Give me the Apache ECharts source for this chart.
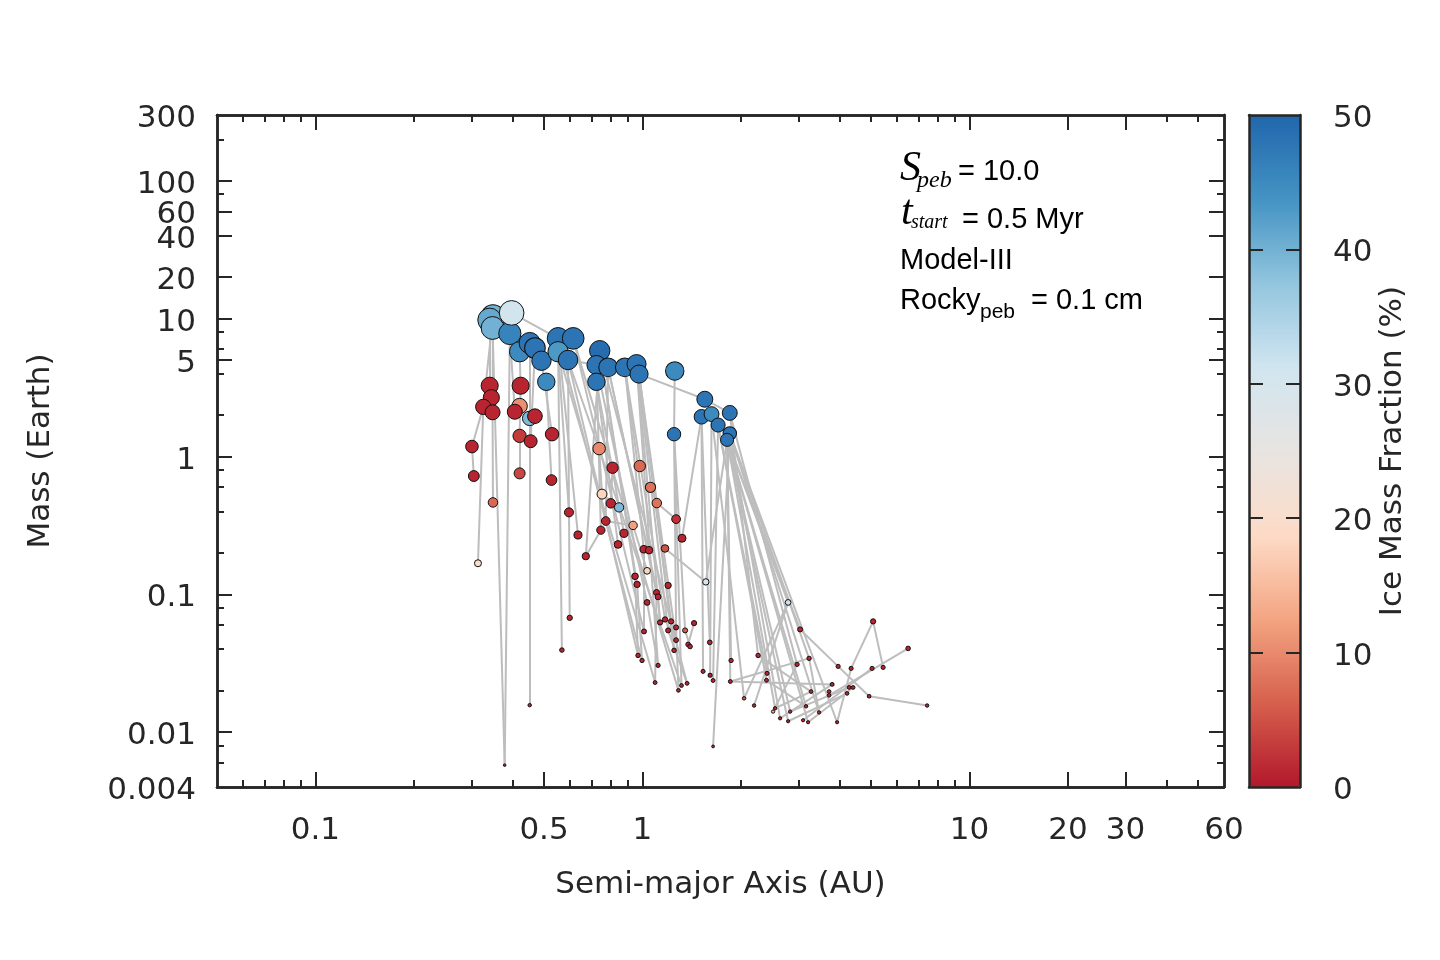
<!DOCTYPE html>
<html>
<head>
<meta charset="utf-8">
<script src="https://cdn.jsdelivr.net/npm/echarts@6/dist/echarts.min.js"></script>
<style>
  html, body { margin: 0; padding: 0; background: #fff; }
  #chart { width: 1440px; height: 960px; }
</style>
</head>
<body>
<div id="chart"></div>
<script>
// semi-major axis (AU), mass (Earth masses), ice mass fraction (%) per body
const semiMajor = [
  0.349, 0.341, 0.348, 0.393, 0.398, 0.421, 0.452, 0.469, 0.491, 0.552,
  0.614, 0.552, 0.592, 0.740, 0.723, 0.785, 0.883, 0.959, 0.976, 0.723,
  1.255, 1.551, 1.515, 1.626, 1.849, 1.703, 1.849, 1.814, 1.249, 0.508,
  0.452,
  0.341, 0.345, 0.326, 0.348, 0.424, 0.421, 0.407, 0.469, 0.421, 0.455,
  0.529, 0.301, 0.305, 0.421, 0.527, 0.737, 0.810, 0.981, 1.058, 0.349,
  0.314, 0.596, 0.635, 0.671, 0.752, 0.800, 0.848, 0.772, 0.746, 0.936,
  0.878, 0.842, 1.106, 1.267, 1.321, 1.009, 1.047, 1.172, 1.033, 1.562,
  0.949, 0.963, 1.198, 1.104, 1.116, 1.033, 0.599, 1.132, 1.172, 1.223,
  1.267, 1.350, 1.438, 1.011, 1.198, 1.267, 1.249, 1.379, 1.398, 1.606,
  0.969, 0.997, 1.116, 1.093, 1.288, 1.316, 1.369, 1.532, 1.610, 1.644,
  1.644, 1.866, 1.856, 2.257, 2.045, 2.194, 2.404, 2.394, 2.544, 2.508,
  2.635, 2.788, 2.828, 2.970, 3.034, 2.788, 5.072, 6.49, 3.232, 3.965,
  4.345, 5.036, 5.443, 3.801, 4.284, 4.406, 3.278, 3.721, 3.721, 4.224,
  4.932, 7.42, 3.164, 3.467, 3.098, 3.209, 3.936, 0.452, 0.567, 0.379
];
const mass = [
  10.3, 9.77, 8.55, 7.8, 11.0, 5.75, 6.65, 6.12, 4.95, 7.19,
  7.19, 5.75, 5.01, 5.85, 4.61, 4.43, 4.43, 4.68, 3.96, 3.48,
  4.17, 2.60, 1.94, 2.03, 2.07, 1.69, 1.47, 1.32, 1.45, 3.48,
  1.89,
  3.26, 2.67, 2.29, 2.09, 3.26, 2.32, 2.11, 1.96, 1.41, 1.29,
  1.45, 1.18, 0.721, 0.754, 0.674, 1.14, 0.828, 0.852, 0.597, 0.464,
  0.168, 0.393, 0.269, 0.189, 0.533, 0.457, 0.427, 0.340, 0.292, 0.316,
  0.277, 0.230, 0.459, 0.351, 0.255, 0.212, 0.209, 0.215, 0.148, 0.123,
  0.135, 0.118, 0.116, 0.103, 0.0959, 0.0873, 0.0675, 0.0625, 0.0657, 0.0636,
  0.0575, 0.0547, 0.0618, 0.0538, 0.0547, 0.0465, 0.0392, 0.0433, 0.0418, 0.0448,
  0.036, 0.0331, 0.0305, 0.0229, 0.0201, 0.0218, 0.0226, 0.0276, 0.0259, 0.0237,
  0.00788, 0.0331, 0.0233, 0.036, 0.0176, 0.0156, 0.0267, 0.0238, 0.0149, 0.0141,
  0.0126, 0.0120, 0.0141, 0.031, 0.0556, 0.0873, 0.0636, 0.0405, 0.0343, 0.030,
  0.029, 0.029, 0.0295, 0.0222, 0.0211, 0.0211, 0.0197, 0.0197, 0.0185, 0.0191,
  0.0182, 0.0156, 0.0154, 0.0139, 0.0122, 0.0118, 0.0118, 0.0157, 0.0394, 0.00576
];
const iceFraction = [
  40, 41, 40, 46, 31, 45, 48, 48, 48, 48,
  48, 43, 48, 49, 48, 48, 48, 48, 48, 48,
  45, 48, 48, 45, 48, 48, 48, 48, 48, 45,
  39,
  1, 1, 1, 1, 1, 10.5, 1, 1, 3, 1,
  1, 1, 1, 4, 1, 10, 1, 7, 8, 7,
  19.5, 1, 1, 1, 18, 1, 39, 1, 1, 12,
  1, 1, 8, 2, 1, 1, 1, 5, 18, 29,
  1, 1, 1, 1, 1, 1, 1, 1, 1, 1,
  1, 6, 1, 1, 1, 1, 1, 1, 1, 1,
  1, 1, 1, 1, 1, 1, 1, 1, 1, 1,
  1, 1, 1, 1, 5, 1, 1, 1, 1, 13,
  1, 1, 1, 1, 1, 32, 1, 1, 1, 1,
  1, 1, 1, 1, 1, 1, 1, 1, 1, 1,
  1, 1, 1, 1, 1, 1, 1, 1, 1, 1
];
// grey tracks: pairs of body indices
const tracks = [
  [4, 9], [9, 10], [12, 14], [14, 16], [16, 17], [18, 21], [21, 24], [20, 28],
  [1, 31], [31, 32], [32, 34], [33, 42], [42, 43], [33, 51], [34, 50], [0, 33], [2, 140], [3, 140], [0, 34],
  [5, 35], [35, 39], [39, 44], [6, 30], [30, 138], [3, 37], [37, 36], [7, 40], [8, 41], [29, 45],
  [11, 139], [12, 77], [11, 52], [9, 53], [13, 54], [54, 59],
  [12, 91], [9, 92], [10, 84], [11, 94], [13, 71], [13, 72], [14, 76], [15, 74], [15, 75], [16, 66], [16, 67],
  [17, 78], [17, 85], [18, 87], [18, 86], [19, 62], [19, 61], [14, 59], [15, 58], [10, 95], [12, 96], [13, 97],
  [17, 93], [16, 79], [18, 80], [28, 96], [28, 81], [28, 82],
  [46, 55], [55, 56], [58, 60], [47, 56], [49, 63], [63, 64], [65, 22], [68, 70], [66, 84], [57, 55], [60, 69],
  [27, 116], [27, 115], [26, 119], [27, 133], [27, 136], [26, 137], [26, 134], [27, 113], [27, 112], [27, 109],
  [25, 107], [24, 104], [27, 102], [27, 103], [26, 101], [22, 98], [23, 99], [25, 100], [27, 70], [26, 111],
  [24, 114], [25, 108], [22, 90], [23, 105],
  [117, 121], [117, 123], [115, 120], [120, 131], [131, 132], [118, 129], [116, 105], [116, 106], [119, 103],
  [114, 110], [121, 137], [124, 111], [125, 113], [126, 136], [127, 109], [130, 112], [134, 119], [108, 133],
  [103, 124], [104, 127], [122, 135],
  [71, 91], [72, 92], [76, 93], [74, 94], [75, 78], [79, 86], [80, 87], [81, 95], [83, 88], [85, 97], [82, 89]
];

const xLabels = [0.1, 0.5, 1, 10, 20, 30, 60];
const xMajorTicks = [0.1, 0.5, 1, 10, 20, 30];
const xMinorTicks = [0.06, 0.07, 0.08, 0.09, 0.2, 0.3, 0.4, 0.6, 0.7, 0.8, 0.9, 2, 3, 4, 5, 6, 7, 8, 9, 40, 50];
const yLabels = [300, 100, 60, 40, 20, 10, 5, 1, 0.1, 0.01, 0.004];
const yMajorTicks = [100, 60, 40, 20, 10, 5, 1, 0.1, 0.01];
const yMinorTicks = [200, 80, 8, 6, 4, 2, 0.8, 0.6, 0.4, 0.2, 0.08, 0.06, 0.04, 0.02, 0.008, 0.006];
const barTicks = [10, 20, 30, 40];

const ink = '#262626';
const axisFont = 'DejaVu Sans';
const fs = 31;
const barColors = ['#b2182b', '#d6604d', '#f4a582', '#fddbc7', '#e8e4e1', '#d1e5f0', '#92c5de', '#4393c3', '#2166ac'];

const bodies = semiMajor.map((a, i) => [a, mass[i], iceFraction[i]]);
const trackData = tracks.map(([i, j]) => ({
  coords: [[semiMajor[i], mass[i]], [semiMajor[j], mass[j]]]
}));

function logAxis(pos, lo, hi, ticks, len, extra) {
  const ax = {
    type: 'log', logBase: 10, min: lo, max: hi, position: pos, gridIndex: 0,
    axisLine: { show: true, onZero: false, lineStyle: { color: ink, width: 2.5 } },
    axisTick: { show: true, inside: true, length: len, customValues: ticks, lineStyle: { color: ink, width: 2 } },
    axisLabel: { show: false },
    splitLine: { show: false },
    minorTick: { show: false },
    axisPointer: { show: false }
  };
  return Object.assign(ax, extra || {});
}

function barAxis(dim, pos, extra) {
  const ax = {
    type: 'value', gridIndex: 1, position: pos, z: 10,
    min: 0, max: dim === 'y' ? 50 : 1,
    axisLine: { show: true, onZero: false, lineStyle: { color: ink, width: 2.5 } },
    axisTick: { show: false },
    axisLabel: { show: false },
    splitLine: { show: false }
  };
  return Object.assign(ax, extra || {});
}

const titleStyle = { color: ink, fontFamily: axisFont, fontSize: fs };

const chart = echarts.init(document.getElementById('chart'));
chart.setOption({
  backgroundColor: '#fff',
  animation: false,
  grid: [
    { left: 217, top: 115, width: 1007, height: 672, outerBoundsMode: 'none' },
    { left: 1249, top: 115, width: 51, height: 672, outerBoundsMode: 'none' }
  ],
  xAxis: [
    logAxis('bottom', 0.05, 60, xMajorTicks, 15, {
      name: 'Semi-major Axis (AU)', nameLocation: 'middle', nameGap: 82,
      nameTextStyle: titleStyle,
      axisLabel: { show: true, customValues: xLabels, formatter: v => String(v), margin: 28,
        color: ink, fontFamily: axisFont, fontSize: fs }
    }),
    logAxis('bottom', 0.05, 60, xMinorTicks, 7),
    logAxis('top', 0.05, 60, xMajorTicks, 15),
    logAxis('top', 0.05, 60, xMinorTicks, 7),
    barAxis('x', 'bottom'),
    barAxis('x', 'top')
  ],
  yAxis: [
    logAxis('left', 0.004, 300, yMajorTicks, 15, {
      name: 'Mass (Earth)', nameLocation: 'middle', nameGap: 161, nameRotate: 90,
      nameTextStyle: titleStyle,
      axisLabel: { show: true, customValues: yLabels, formatter: v => String(v), margin: 21,
        verticalAlign: 'top', lineHeight: 8, color: ink, fontFamily: axisFont, fontSize: fs }
    }),
    logAxis('left', 0.004, 300, yMinorTicks, 7),
    logAxis('right', 0.004, 300, yMajorTicks, 15),
    logAxis('right', 0.004, 300, yMinorTicks, 7),
    barAxis('y', 'right', {
      interval: 10,
      axisTick: { show: true, inside: true, length: 14, customValues: barTicks, lineStyle: { color: ink, width: 2 } },
      axisLabel: { show: true, margin: 33, verticalAlign: 'top', lineHeight: 8,
        color: ink, fontFamily: axisFont, fontSize: fs },
      name: 'Ice Mass Fraction (%)', nameLocation: 'middle', nameGap: 77, nameRotate: 90,
      nameTextStyle: titleStyle
    }),
    barAxis('y', 'left', {
      axisTick: { show: true, inside: true, length: 14, customValues: barTicks, lineStyle: { color: ink, width: 2 } }
    })
  ],
  visualMap: {
    type: 'continuous', min: 0, max: 50, dimension: 2, seriesIndex: 1,
    inRange: { color: barColors },
    calculable: false, hoverLink: false, realtime: false,
    orient: 'vertical', left: 1249, top: 115, itemWidth: 51, itemHeight: 672,
    padding: 0, text: null, z: 4
  },
  graphic: [
    { type: 'text', x: 900, y: 169, style: { text: 'S', font: 'italic 42px "Liberation Serif"', fill: '#000', verticalAlign: 'middle' } },
    { type: 'text', x: 917, y: 181, style: { text: 'peb', font: 'italic 24px "Liberation Serif"', fill: '#000', verticalAlign: 'middle' } },
    { type: 'text', x: 958, y: 172, style: { text: '= 10.0', font: '29px "Liberation Sans"', fill: '#000', verticalAlign: 'middle' } },
    { type: 'text', x: 901, y: 213, style: { text: 't', font: 'italic 42px "Liberation Serif"', fill: '#000', verticalAlign: 'middle' } },
    { type: 'text', x: 911, y: 223, style: { text: 'start', font: 'italic 20px "Liberation Serif"', fill: '#000', verticalAlign: 'middle' } },
    { type: 'text', x: 962, y: 220, style: { text: '= 0.5 Myr', font: '29px "Liberation Sans"', fill: '#000', verticalAlign: 'middle' } },
    { type: 'text', x: 900, y: 261, style: { text: 'Model-III', font: '29px "Liberation Sans"', fill: '#000', verticalAlign: 'middle' } },
    { type: 'text', x: 900, y: 301, style: { text: 'Rocky', font: '29px "Liberation Sans"', fill: '#000', verticalAlign: 'middle' } },
    { type: 'text', x: 980, y: 312, style: { text: 'peb', font: '21px "Liberation Sans"', fill: '#000', verticalAlign: 'middle' } },
    { type: 'text', x: 1031, y: 301, style: { text: '= 0.1 cm', font: '29px "Liberation Sans"', fill: '#000', verticalAlign: 'middle' } }
  ],
  series: [
    {
      type: 'lines', coordinateSystem: 'cartesian2d', xAxisIndex: 0, yAxisIndex: 0,
      data: trackData, silent: true, z: 2,
      lineStyle: { color: '#bdbdbd', width: 2, opacity: 1, curveness: 0 }
    },
    {
      type: 'scatter', xAxisIndex: 0, yAxisIndex: 0, data: bodies, z: 3,
      symbolSize: d => 12 * Math.pow(d[1], 0.3),
      itemStyle: { borderColor: '#111', borderWidth: 1, opacity: 1 }
    }
  ]
});
</script>
</body>
</html>
